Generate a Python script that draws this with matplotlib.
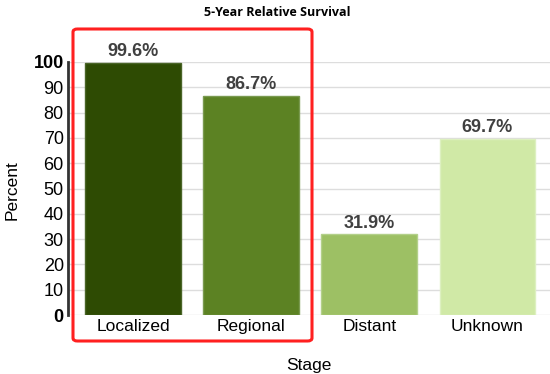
import matplotlib
matplotlib.use("Agg")
import matplotlib.pyplot as plt
from matplotlib.patches import FancyBboxPatch

# Data
stages = ["Localized", "Regional", "Distant", "Unknown"]
survival = [99.6, 86.7, 31.9, 69.7]
bar_colors = ["#2e4b03", "#5c8223", "#9dc064", "#d0e9a6"]
edge_colors = ["#4a6528", "#7a9a50", "#b3d08a", "#ddf0c0"]
yticks = [0, 10, 20, 30, 40, 50, 60, 70, 80, 90, 100]

plt.rcParams["font.family"] = ["Liberation Sans", "DejaVu Sans"]

fig = plt.figure(figsize=(5.5, 3.74), dpi=100)
ax = fig.add_axes([68 / 550, 1 - 315 / 374, 482 / 550, 253 / 374])

x = list(range(len(stages)))
ax.bar(x, survival, width=0.81, color=bar_colors, edgecolor=edge_colors,
       linewidth=1, zorder=3)

for xi, v in zip(x, survival):
    ax.text(xi, v + 1.0, f"{v}%", ha="center", va="bottom", fontsize=13,
            fontweight="bold", color="#404040", zorder=4)

ax.set_xlim(-0.55, 3.53)
ax.set_ylim(0, 100)
ax.set_yticks(yticks)
ax.set_yticklabels([str(t) for t in yticks], fontsize=13)
for lbl in ax.get_yticklabels():
    if lbl.get_text() in ("0", "100"):
        lbl.set_fontweight("bold")
ax.set_xticks(x)
ax.set_xticklabels(stages, fontsize=12.5)
ax.tick_params(axis="both", length=0, pad=3)

ax.yaxis.grid(True, color="#dddddd", linewidth=1, zorder=0)
ax.set_axisbelow(True)
for s in ["top", "right", "bottom"]:
    ax.spines[s].set_visible(False)
ax.spines["left"].set_color("#333333")
ax.spines["left"].set_linewidth(2)

fig.text(12 / 550, 1 - 190 / 374, "Percent", rotation=90, ha="center",
         va="center", fontsize=12.5)
ax.set_xlabel("Stage", fontsize=12.5, labelpad=17)

fig.text(277 / 550, 1 - 12 / 374, "5-Year Relative Survival", ha="center",
         va="center", fontsize=9, fontweight="bold", family="Open Sans")

# red highlight box around Localized and Regional
box = FancyBboxPatch((73 / 550, 1 - 341 / 374), 239 / 550, 312 / 374,
                     boxstyle="round,pad=0,rounding_size=0.008",
                     transform=fig.transFigure, fill=False,
                     edgecolor="#ff2020", linewidth=2.2, zorder=10)
fig.patches.append(box)

fig.savefig("out.png", dpi=100)
